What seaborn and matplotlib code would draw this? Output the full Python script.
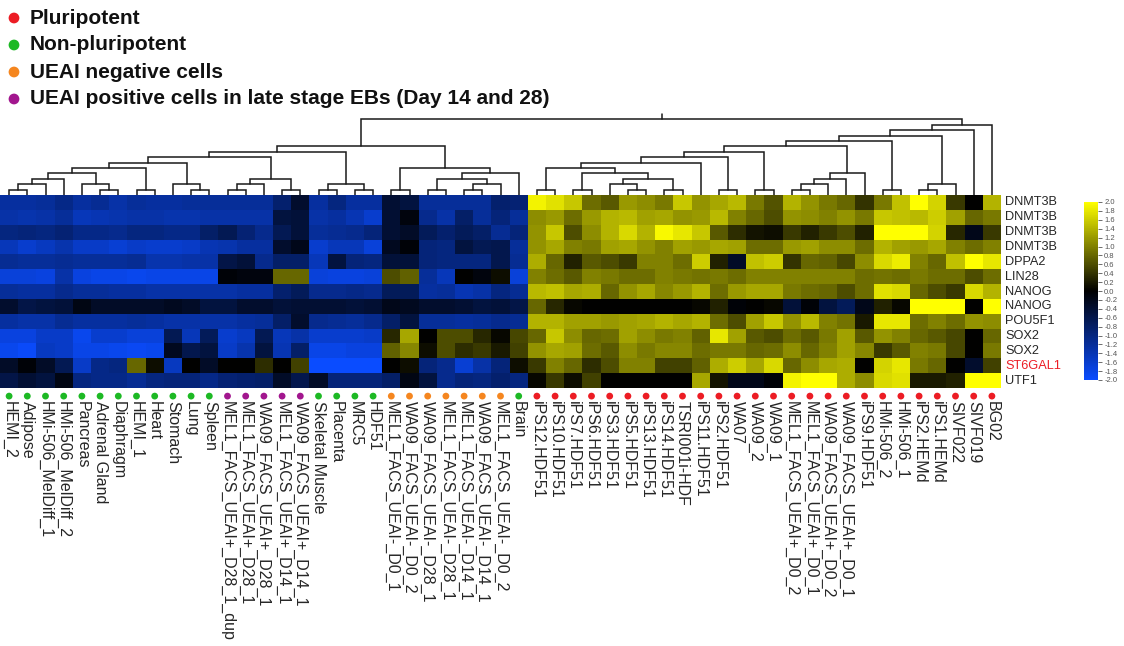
import numpy as np
import pandas as pd
import matplotlib
matplotlib.use("Agg")
import matplotlib.pyplot as plt
import matplotlib.transforms as mtransforms
from matplotlib.colors import LinearSegmentedColormap
import seaborn as sns

# ---------------------------------------------------------------- data
genes = ["DNMT3B", "DNMT3B", "DNMT3B", "DNMT3B", "DPPA2", "LIN28", "NANOG",
         "NANOG", "POU5F1", "SOX2", "SOX2", "ST6GAL1", "UTF1"]

samples = [
    "HEMI_2", "Adipose", "HMi-506_MelDiff_1", "HMi-506_MelDiff_2", "Pancreas",
    "Adrenal Gland", "Diaphragm", "HEMI_1", "Heart", "Stomach", "Lung", "Spleen",
    "MEL1_FACS_UEAI+_D28_1_dup", "MEL1_FACS_UEAI+_D28_1", "WA09_FACS_UEAI+_D28_1",
    "MEL1_FACS_UEAI+_D14_1", "WA09_FACS_UEAI+_D14_1",
    "Skeletal Muscle", "Placenta", "MRC5", "HDF51",
    "MEL1_FACS_UEAI-_D0_1", "WA09_FACS_UEAI-_D0_2", "WA09_FACS_UEAI-_D28_1",
    "MEL1_FACS_UEAI-_D28_1", "MEL1_FACS_UEAI-_D14_1", "WA09_FACS_UEAI-_D14_1",
    "MEL1_FACS_UEAI-_D0_2",
    "Brain",
    "iPS12.HDF51", "iPS10.HDF51", "iPS7.HDF51", "iPS6.HDF51", "iPS3.HDF51",
    "iPS5.HDF51", "iPS13.HDF51", "iPS14.HDF51", "TSRI001i-HDF", "iPS11.HDF51",
    "iPS2.HDF51", "WA07", "WA09_2", "WA09_1", "MEL1_FACS_UEAI+_D0_2",
    "MEL1_FACS_UEAI+_D0_1", "WA09_FACS_UEAI+_D0_2", "WA09_FACS_UEAI+_D0_1",
    "iPS9.HDF51", "HMi-506_2", "HMi-506_1", "iPS2.HEMd", "iPS1.HEMd",
    "SIVF022", "SIVF019", "BG02",
]

# sample class: P pluripotent, N non-pluripotent, NEG UEAI negative, POS UEAI positive (late EBs)
sample_class = (["N"] * 12 + ["POS"] * 5 + ["N"] * 4 + ["NEG"] * 7 + ["N"]
                + ["P"] * 26)

# standardised expression per probe, one value per sample (same order as samples)
dnmt3b_1 = [-1.25, -1.25, -1.2, -1.05, -1.25, -1.15, -1.3, -1.2, -1.25, -1.25, -1.2, -1.2, -1.2, -1.2,
            -1.2, -0.85, -0.35, -1.25, -1.0, -1.25, -1.25, -0.4, -0.5, -1.2, -1.2, -1.2, -1.2,
            -0.85, -0.9,
            1.9, 1.75, 1.55, 0.85, 0.7, 1.2, 1.1, 0.95, 1.55, 1.15, 1.3, 1.45,
            0.95, 0.65, 1.4, 1.15, 0.95, 0.8, 0.4, 0.95, 1.5, 2.0, 1.65, 0.45, 0.0, 1.4]
dnmt3b_2 = [-1.3, -1.35, -1.3, -1.2, -1.45, -1.4, -1.35, -1.3, -1.3, -1.35, -1.35, -1.3, -1.3, -1.3,
            -1.3, -0.5, -0.45, -1.3, -1.25, -1.4, -1.6, -0.4, -0.1, -1.1, -1.3, -0.8, -1.2,
            -0.95, -1.2,
            1.1, 1.2, 0.85, 1.2, 1.4, 1.45, 1.25, 1.3, 1.15, 1.2, 1.45, 1.0,
            0.8, 0.6, 1.15, 1.1, 1.0, 1.15, 0.95, 1.55, 1.5, 1.45, 1.6, 1.25, 0.8, 0.95]
dnmt3b_3 = [-1.0, -0.95, -1.0, -0.9, -1.05, -1.05, -1.1, -1.0, -1.0, -1.05, -1.05, -0.8, -0.65, -0.9,
            -1.1, -0.65, -0.45, -1.2, -1.15, -1.1, -0.95, -0.4, -0.3, -0.7, -0.85, -0.7, -0.8,
            -1.15, -0.95,
            1.15, 1.55, 0.6, 1.1, 1.4, 1.7, 1.4, 1.95, 1.8, 1.55, 0.7, 0.35,
            0.15, 0.1, 0.45, 0.25, 0.45, 0.6, 0.25, 2.0, 2.0, 2.0, 1.65, 0.3, -0.2, 0.45]
dnmt3b_4 = [-1.45, -1.6, -1.5, -1.35, -1.55, -1.55, -1.65, -1.55, -1.6, -1.6, -1.55, -1.4, -1.35, -1.25,
            -1.25, -0.35, -0.2, -1.6, -1.45, -1.45, -1.7, -0.25, -0.05, -0.95, -1.0, -0.5, -0.65,
            -0.6, -1.2,
            1.15, 1.3, 1.0, 0.95, 1.25, 1.3, 1.15, 1.0, 1.25, 1.2, 1.3, 1.25,
            0.85, 0.85, 1.2, 1.25, 1.1, 1.1, 0.85, 1.4, 1.25, 1.2, 1.3, 1.0, 0.85, 1.0]
dppa2 = [-1.15, -1.2, -1.2, -1.15, -1.2, -1.2, -1.2, -1.15, -1.35, -1.35, -1.3, -1.3, -0.55, -0.45,
         -1.1, -0.8, -0.8, -1.45, -0.5, -0.95, -1.0, -0.45, -0.45, -0.95, -1.0, -1.0, -1.0,
         -0.6, -1.15,
         1.35, 0.8, 0.25, 0.7, 0.6, 0.45, 1.0, 1.0, 0.85, 1.6, 0.25, -0.3,
         1.5, 1.6, 0.4, 0.8, 0.75, 0.55, 1.1, 1.7, 1.85, 1.0, 0.8, 1.5, 2.0, 1.8]
lin28 = [-1.7, -1.7, -1.75, -1.3, -1.75, -1.8, -1.8, -1.85, -1.8, -1.8, -1.8, -1.8, -0.05, -0.1,
         -0.1, 0.8, 0.8, -1.7, -1.75, -1.75, -1.7, 0.6, 0.75, -1.2, -1.45, 0.0, -0.1,
         0.1, -1.7,
         1.0, 0.85, 0.7, 1.0, 0.95, 0.85, 0.85, 1.0, 0.95, 0.9, 0.95, 0.85,
         1.0, 1.0, 1.0, 1.0, 1.0, 1.0, 0.85, 0.9, 0.85, 0.95, 0.85, 0.85, 0.6, 0.85]
nanog_1 = [-1.2, -1.25, -1.25, -1.1, -1.2, -1.2, -1.25, -1.25, -1.3, -1.3, -1.3, -1.3, -1.3, -1.25,
           -1.25, -0.85, -0.7, -1.1, -1.1, -1.05, -1.1, -0.7, -0.7, -1.25, -1.2, -1.4, -1.3,
           -1.0, -1.15,
           1.45, 1.5, 1.3, 1.35, 0.8, 1.15, 1.3, 1.05, 1.2, 1.4, 0.85, 1.2,
           1.3, 1.3, 0.95, 0.85, 0.8, 0.6, 0.85, 1.75, 1.7, 0.8, 0.6, 0.45, 1.7, 1.4]
nanog_2 = [-0.35, -0.55, -0.5, -0.45, -0.15, -0.3, -0.3, -0.3, -0.3, -0.25, -0.3, -0.5, -0.5, -0.35,
           -0.35, -0.45, -0.4, -0.4, -0.4, -0.45, -0.4, -0.2, -0.25, -0.35, -0.35, -0.4, -0.5,
           -0.45, -0.55,
           0.8, 0.3, 0.05, 0.0, 0.0, 0.0, 0.0, 0.0, 0.0, 0.05, 0.25, -0.05,
           0.0, 0.05, -0.45, -0.05, -0.5, -0.7, -0.2, 0.25, 0.05, 2.0, 2.0, 2.0, 0.0, 2.0]
pou5f1 = [-1.25, -1.3, -1.3, -1.15, -1.25, -1.25, -1.25, -1.2, -1.25, -1.3, -1.3, -1.3, -1.3, -1.25,
          -1.2, -0.8, -0.35, -1.1, -1.15, -1.2, -1.1, -0.8, -0.5, -1.2, -1.2, -1.25, -1.2,
          -1.1, -1.15,
          1.4, 1.4, 1.25, 1.25, 1.2, 1.25, 1.3, 1.4, 1.3, 1.4, 0.85, 0.6,
          1.25, 1.55, 1.15, 1.45, 1.0, 0.9, 0.2, 1.8, 1.8, 0.85, 1.0, 0.85, 1.15, 1.1]
sox2_1 = [-1.75, -1.75, -1.55, -1.55, -1.85, -1.6, -1.6, -1.7, -1.7, -0.65, -1.45, -0.7, -1.6, -1.5,
          -0.65, -1.45, -1.3, -1.6, -1.6, -1.6, -1.55, 0.3, 1.3, 0.0, 0.6, 0.6, 0.3,
          0.05, 0.55,
          0.8, 1.55, 1.1, 0.8, 0.85, 1.25, 1.1, 0.95, 1.0, 0.75, 1.8, 1.25,
          0.7, 0.6, 0.85, 0.7, 0.95, 1.25, 0.7, 1.15, 1.0, 0.8, 0.7, 0.55, 0.0, 0.8]
sox2_2 = [-1.85, -1.95, -1.5, -1.55, -1.8, -1.8, -1.85, -1.9, -1.85, -0.25, -0.6, -0.5, -1.55, -1.35,
          -0.5, -1.4, -0.8, -1.8, -1.8, -1.75, -1.75, 0.75, 1.05, 0.1, 0.6, 0.35, 0.45,
          0.2, 0.5,
          1.15, 1.3, 1.25, 0.85, 0.7, 1.1, 0.95, 1.05, 1.05, 0.85, 0.95, 0.95,
          0.8, 0.85, 1.1, 0.8, 1.0, 1.25, 1.05, 0.45, 0.7, 1.0, 0.95, 0.55, 0.0, 0.95]
st6gal1 = [-0.3, -0.05, -0.3, -0.65, -1.55, -1.05, -1.0, 0.8, 0.1, -1.5, 0.0, -0.3, 0.0, 0.0,
           0.35, 0.0, 0.5, -2.0, -2.0, -2.0, -2.0, 0.0, 0.1, -0.95, -1.1, -1.65, -1.3,
           -0.95, 0.1,
           0.45, 1.0, 0.8, 0.35, 0.6, 1.0, 1.0, 0.5, 0.5, 0.75, 1.35, 1.6,
           1.3, 1.7, 0.8, 1.1, 1.3, 1.35, 0.0, 1.65, 1.8, 0.95, 0.8, 0.0, -0.35, 0.5]
utf1 = [-0.55, -0.4, -0.5, -0.15, -1.0, -1.05, -1.05, -1.15, -1.0, -0.95, -0.95, -1.05, -0.9, -0.85,
        -0.8, -0.3, -0.6, -0.3, -0.95, -0.95, -0.95, -0.8, -0.15, -0.5, -1.1, -0.95, -1.0,
        -0.85, -1.0,
        0.05, 0.45, 0.1, 0.5, 0.0, 0.0, 0.0, 0.0, 0.0, 1.3, 0.15, -0.2,
        -0.2, -0.05, 1.9, 2.0, 2.0, 1.35, 1.1, 1.7, 1.75, 0.2, 0.2, 0.25, 2.0, 2.0]

# sample clustering: (node, left child, right child, merge level); ints are sample indices
merges = [
    ("a1", 0, 1, 1), ("a2", "a1", 2, 2), ("a3", "a2", 3, 3),
    ("a4", 5, 6, 1), ("a5", 4, "a4", 2), ("a6", "a3", "a5", 4),
    ("a7", 7, 8, 1), ("a8", "a6", "a7", 5),
    ("a9", 10, 11, 1), ("a10", 9, "a9", 2), ("a11", "a8", "a10", 6),
    ("a12", 12, 13, 1), ("a13", "a12", 14, 2), ("a14", 15, 16, 1),
    ("a15", "a13", "a14", 3), ("a16", "a11", "a15", 7),
    ("a17", 17, 18, 1), ("a18", 19, 20, 1), ("a19", "a17", "a18", 2),
    ("a20", "a16", "a19", 8),
    ("a21", 21, 22, 1), ("a22", 23, 24, 1), ("a23", 25, 26, 1),
    ("a24", "a23", 27, 2), ("a25", "a22", "a24", 3), ("a26", "a25", 28, 4),
    ("a27", "a21", "a26", 5), ("a28", "a20", "a27", 9),
    ("b1", 29, 30, 1), ("b2", 31, 32, 1), ("b3", 34, 35, 1), ("b4", 33, "b3", 2),
    ("b5", 36, 37, 1), ("b6", "b4", "b5", 3), ("b7", "b2", "b6", 4),
    ("b8", "b1", "b7", 5), ("b9", "b8", 38, 6), ("b10", 39, 40, 1),
    ("b11", "b9", "b10", 7), ("b12", 41, 42, 1), ("b13", "b11", "b12", 8),
    ("b14", 43, 44, 1), ("b15", "b14", 45, 2), ("b16", "b15", 46, 3),
    ("b17", "b16", 47, 4), ("b18", "b13", "b17", 9), ("b19", 48, 49, 1),
    ("b20", "b18", "b19", 10), ("b21", 50, 51, 1), ("b22", "b21", 52, 2),
    ("b23", "b20", "b22", 11), ("b24", "b23", 53, 12), ("b25", "b24", 54, 13),
    ("root", "a28", "b25", 14),
]

class_names = {
    "P": "Pluripotent",
    "N": "Non-pluripotent",
    "NEG": "UEAI negative cells",
    "POS": "UEAI positive cells in late stage EBs (Day 14 and 28)",
}
legend_order = ["P", "N", "NEG", "POS"]

# ---------------------------------------------------------------- style
class_colors = {"P": "#EC1C24", "N": "#1DB924", "NEG": "#F5861F", "POS": "#A2168E"}
highlight_gene = "ST6GAL1"

sns.set_style("white")
plt.rcParams["font.family"] = ["Liberation Sans", "DejaVu Sans"]

expr = pd.DataFrame(
    [dnmt3b_1, dnmt3b_2, dnmt3b_3, dnmt3b_4, dppa2, lin28, nanog_1, nanog_2,
     pou5f1, sox2_1, sox2_2, st6gal1, utf1],
    index=genes, columns=samples)

cmap = LinearSegmentedColormap.from_list(
    "blue_black_yellow", ["#0A4CFF", "#000000", "#FFFF00"])

W, H = 1124, 646
fig = plt.figure(figsize=(W / 100, H / 100), dpi=100)


def box(x0, y0, x1, y1):
    """Axes rectangle from pixel edges measured from the top-left corner."""
    return [x0 / W, 1 - y1 / H, (x1 - x0) / W, (y1 - y0) / H]


ax = fig.add_axes(box(0, 195, 1001, 388))
cax = fig.add_axes(box(1084, 202, 1098, 380))
dax = fig.add_axes(box(0, 110, 1001, 195))

# ---------------------------------------------------------------- heatmap
sns.heatmap(expr, ax=ax, cmap=cmap, vmin=-2, vmax=2, cbar_ax=cax,
            xticklabels=True, yticklabels=True)

ax.yaxis.tick_right()
ax.set_yticks(np.arange(len(genes)) + 0.5)
ax.set_yticklabels(genes, rotation=0, fontsize=9.2, ha="left", va="center")
for lab in ax.get_yticklabels():
    if lab.get_text() == highlight_gene:
        lab.set_color("#EC1C24")
ax.set_xticks(np.arange(len(samples)) + 0.5)
ax.set_xticklabels(samples, rotation=270, fontsize=11.5, ha="center", va="top")
ax.tick_params(axis="both", length=0)
ax.tick_params(axis="x", pad=9.5)
ax.tick_params(axis="y", pad=3)
ax.set_xlabel("")
ax.set_ylabel("")

# class markers under each column
blend = mtransforms.blended_transform_factory(ax.transData, ax.transAxes)
ax.scatter(np.arange(len(samples)) + 0.5, np.full(len(samples), -0.042),
           c=[class_colors[c] for c in sample_class], s=24, edgecolors="none",
           transform=blend, clip_on=False, zorder=5)

# colour bar
cb = ax.collections[0].colorbar
ticks = np.round(np.linspace(-2, 2, 21), 1)
cb.set_ticks(ticks)
cb.set_ticklabels([f"{t:.1f}".replace("-0.0", "0.0") for t in ticks])
cb.outline.set_visible(False)
cax.tick_params(labelsize=5.5, length=3, width=0.6, colors="#555555", pad=1.5)

# ---------------------------------------------------------------- dendrogram
pos = {i: i + 0.5 for i in range(len(samples))}
lev = {i: 0.0 for i in range(len(samples))}
for name, left, right, level in merges:
    xl, xr = pos[left], pos[right]
    dax.plot([xl, xl, xr, xr], [lev[left], level, level, lev[right]],
             color="#1a1a1a", lw=1.1, solid_joinstyle="miter")
    pos[name] = (xl + xr) / 2
    lev[name] = level
dax.plot([pos["root"], pos["root"]], [lev["root"], lev["root"] + 1],
         color="#1a1a1a", lw=1.1)
dax.set_xlim(0, len(samples))
dax.set_ylim(0, 15.72)
dax.axis("off")

# ---------------------------------------------------------------- legend
lax = fig.add_axes([0, 0, 1, 1])
lax.set_xlim(0, W)
lax.set_ylim(H, 0)
lax.axis("off")
for k, cls in enumerate(legend_order):
    y = 18 + k * 27
    lax.scatter([14], [y], s=60, color=class_colors[cls], edgecolors="none")
    lax.text(30, y, class_names[cls], fontsize=15, fontweight="bold",
             va="center", ha="left", color="#111111")

fig.savefig("out.png", dpi=100)
